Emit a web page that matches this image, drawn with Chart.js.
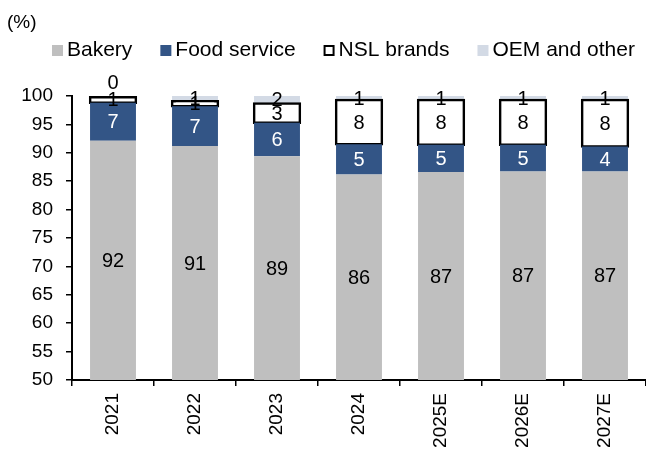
<!DOCTYPE html>
<html>
<head>
<meta charset="utf-8">
<script src="https://cdn.jsdelivr.net/npm/chart.js@4.4.1/dist/chart.umd.min.js"></script>
<style>
  html, body { margin: 0; padding: 0; background: #fff; }
  #wrap { width: 646px; height: 454px; }
</style>
</head>
<body>
<div id="wrap"><canvas id="chart1"></canvas></div>
<script>
// data (%)
const years = ['2021', '2022', '2023', '2024', '2025E', '2026E', '2027E'];
const bakery = [92.1, 91.2, 89.4, 86.2, 86.6, 86.7, 86.7];
const foodService = [6.7, 7.0, 5.9, 5.3, 4.8, 4.7, 4.4];
const nslBrands = [1.0, 0.9, 3.4, 7.8, 7.9, 7.9, 8.2];
const oemOther = [0.2, 0.9, 1.5, 0.7, 0.7, 0.7, 0.7];
const yMin = 50;
const yMax = 100;
const yStep = 5;

const FONT = '"Liberation Sans", Arial, sans-serif';

// labels in the middle of each visible segment
const segmentLabels = {
    id: 'segmentLabels',
    afterDatasetsDraw(chart) {
        const ctx = chart.ctx;
        const y = chart.scales.y;
        ctx.save();
        ctx.font = '20px ' + FONT;
        ctx.textAlign = 'center';
        chart.data.datasets.forEach((ds, i) => {
            const meta = chart.getDatasetMeta(i);
            meta.data.forEach((bar, j) => {
                const v = Math.round(ds.data[j]);
                const top = Math.max(bar.y, y.top);
                const bottom = Math.min(bar.base, y.bottom);
                ctx.fillStyle = ds.labelColor;
                if (v === 0) {
                    ctx.textBaseline = 'bottom';
                    ctx.fillText(String(v), bar.x, top - 3);
                } else {
                    ctx.textBaseline = 'middle';
                    ctx.fillText(String(v), bar.x, (top + bottom) / 2 + 1);
                }
            });
        });
        ctx.restore();
    }
};

// "(%)" unit and a one-row legend like the excel one
const headerLegend = {
    id: 'headerLegend',
    afterDraw(chart) {
        const ctx = chart.ctx;
        ctx.save();
        ctx.fillStyle = '#000';
        ctx.textBaseline = 'alphabetic';
        ctx.textAlign = 'left';
        ctx.font = '19px ' + FONT;
        ctx.fillText('(%)', 7, 28);

        ctx.font = '21px ' + FONT;
        let x = 52;
        const yBase = 56;
        const box = 11;
        chart.data.datasets.forEach(ds => {
            ctx.fillStyle = ds.backgroundColor;
            ctx.fillRect(x, yBase - box, box, box);
            if (ds.borderWidth) {
                ctx.strokeStyle = ds.borderColor;
                ctx.lineWidth = 2;
                ctx.strokeRect(x + 1, yBase - box + 1, box - 2, box - 2);
            }
            ctx.fillStyle = '#000';
            ctx.fillText(ds.label, x + 15, yBase);
            x += 15 + ctx.measureText(ds.label).width + 28;
        });
        ctx.restore();
    }
};

const ctx1 = document.getElementById('chart1');

new Chart(ctx1, {
    type: 'bar',
    data: {
        labels: years,
        datasets: [{
            label: 'Bakery',
            data: bakery,
            backgroundColor: '#bfbfbf',
            borderWidth: 0,
            labelColor: '#000'
        }, {
            label: 'Food service',
            data: foodService,
            backgroundColor: '#335586',
            borderWidth: 0,
            labelColor: '#fff'
        }, {
            label: 'NSL brands',
            data: nslBrands,
            backgroundColor: '#ffffff',
            borderColor: '#000',
            borderWidth: 2.5,
            borderSkipped: false,
            inflateAmount: 1.2,
            labelColor: '#000'
        }, {
            label: 'OEM and other',
            data: oemOther,
            backgroundColor: '#d3dae5',
            borderWidth: 0,
            labelColor: '#000'
        }]
    },
    plugins: [segmentLabels, headerLegend],
    options: {
        responsive: true,
        maintainAspectRatio: false,
        animation: false,
        datasets: {
            bar: {
                barPercentage: 0.56,
                categoryPercentage: 1
            }
        },
        layout: {
            padding: { left: 8, right: 0, top: 96, bottom: 0 }
        },
        plugins: {
            legend: { display: false },
            tooltip: { enabled: false }
        },
        scales: {
            x: {
                stacked: true,
                afterFit(scale) { scale.height = 74; },
                border: { color: '#000', width: 2 },
                grid: {
                    display: true,
                    drawOnChartArea: false,
                    color: '#000',
                    lineWidth: 1.5,
                    tickLength: 6
                },
                ticks: {
                    color: '#000',
                    font: { family: FONT, size: 19 },
                    minRotation: 90,
                    maxRotation: 90,
                    padding: 7
                }
            },
            y: {
                stacked: true,
                min: yMin,
                max: yMax,
                afterFit(scale) { scale.width = 64; },
                border: { color: '#000', width: 2 },
                grid: {
                    display: true,
                    drawOnChartArea: false,
                    color: '#000',
                    lineWidth: 1.5,
                    tickLength: 6
                },
                ticks: {
                    stepSize: yStep,
                    color: '#000',
                    font: { family: FONT, size: 19 },
                    padding: 13
                }
            }
        }
    }
});
</script>
</body>
</html>
